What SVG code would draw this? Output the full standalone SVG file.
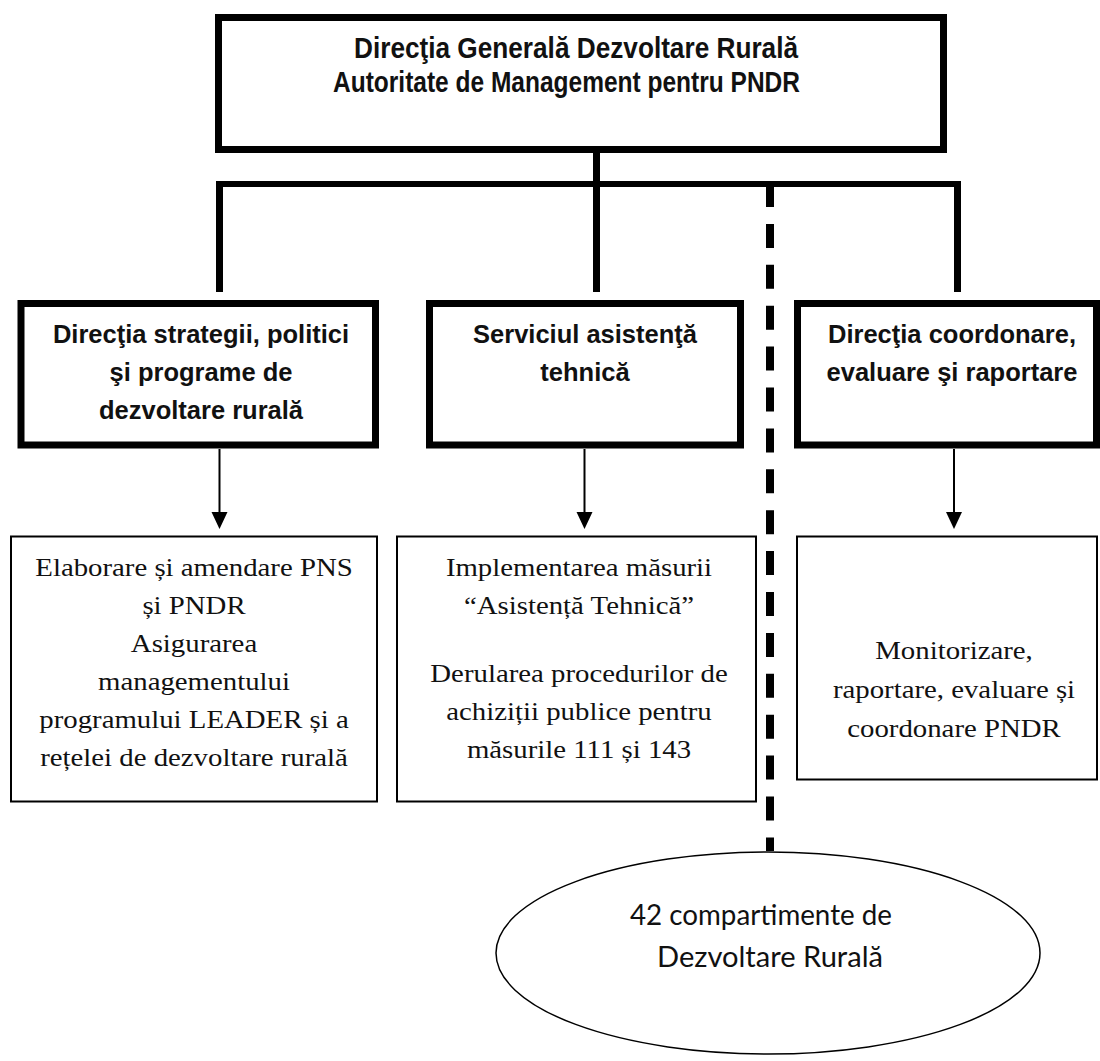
<svg xmlns="http://www.w3.org/2000/svg" width="1100" height="1061" viewBox="0 0 1100 1061">
<style>
.thick{fill:#fff;stroke:#000;stroke-width:7}
.thin{fill:#fff;stroke:#000;stroke-width:2}
.hdr{font-family:"Liberation Sans",Arial,sans-serif;font-weight:bold;font-size:29px;fill:#111}
.lbl{font-family:"Liberation Sans",Arial,sans-serif;font-weight:bold;font-size:25.5px;fill:#111;text-anchor:middle}
.body{font-family:"Liberation Serif","Times New Roman",serif;font-size:25.5px;fill:#111;text-anchor:middle}
.ell{font-family:Lato,"Open Sans",sans-serif;font-size:28px;fill:#111}
.conn{fill:none;stroke:#000}
</style>
<rect width="1100" height="1061" fill="#fff"/>

<g id="connectors">
<line class="conn" x1="596.5" y1="153" x2="596.5" y2="184" stroke-width="7"/>
<line class="conn" x1="216" y1="184" x2="961" y2="184" stroke-width="6"/>
<line class="conn" x1="219.5" y1="181" x2="219.5" y2="292" stroke-width="7"/>
<line class="conn" x1="596.5" y1="181" x2="596.5" y2="292" stroke-width="7"/>
<line class="conn" x1="957.5" y1="181" x2="957.5" y2="292" stroke-width="7"/>
<line class="conn" x1="770" y1="183" x2="770" y2="851" stroke-width="8" stroke-dasharray="24 16.9"/>
<line class="conn" x1="219.5" y1="449" x2="219.5" y2="514" stroke-width="2"/>
<path d="M211.5,512 L227.5,512 L219.5,529 Z" fill="#000"/>
<line class="conn" x1="584.5" y1="449" x2="584.5" y2="514" stroke-width="2"/>
<path d="M576.5,512 L592.5,512 L584.5,529 Z" fill="#000"/>
<line class="conn" x1="954" y1="449" x2="954" y2="514" stroke-width="2"/>
<path d="M946,512 L962,512 L954,529 Z" fill="#000"/>
</g>

<g id="node-dgdr">
<rect class="thick" x="218.5" y="17.5" width="725" height="132"/>
<text class="hdr" x="354" y="58" textLength="444" lengthAdjust="spacingAndGlyphs">Direcţia Generală Dezvoltare Rurală</text>
<text class="hdr" x="333" y="92" textLength="467" lengthAdjust="spacingAndGlyphs">Autoritate de Management pentru PNDR</text>
</g>

<g id="node-dspdr">
<rect class="thick" x="21" y="303.5" width="354.5" height="141.5"/>
<text class="lbl" x="201" y="343">Direcţia strategii, politici</text>
<text class="lbl" x="201" y="381">şi programe de</text>
<text class="lbl" x="201" y="419">dezvoltare rurală</text>
</g>

<g id="node-sat">
<rect class="thick" x="429.5" y="303.5" width="311" height="141.5"/>
<text class="lbl" x="585" y="343">Serviciul asistenţă</text>
<text class="lbl" x="585" y="381">tehnică</text>
</g>

<g id="node-dcer">
<rect class="thick" x="797.5" y="303.5" width="299" height="141.5"/>
<text class="lbl" x="952" y="343">Direcţia coordonare,</text>
<text class="lbl" x="952" y="381">evaluare şi raportare</text>
</g>

<g id="node-elaborare">
<rect class="thin" x="11" y="536.5" width="366" height="265"/>
<g transform="translate(194 0) scale(1.13 1)">
<text class="body" x="0" y="576">Elaborare și amendare PNS</text>
<text class="body" x="0" y="614">și PNDR</text>
<text class="body" x="0" y="652">Asigurarea</text>
<text class="body" x="0" y="690">managementului</text>
<text class="body" x="0" y="728.5">programului LEADER și a</text>
<text class="body" x="0" y="766">rețelei de dezvoltare rurală</text>
</g>
</g>

<g id="node-implementare">
<rect class="thin" x="397" y="536.5" width="359" height="265"/>
<g transform="translate(579 0) scale(1.13 1)">
<text class="body" x="0" y="576">Implementarea măsurii</text>
<text class="body" x="0" y="614">“Asistență Tehnică”</text>
<text class="body" x="0" y="682">Derularea procedurilor de</text>
<text class="body" x="0" y="720">achiziții publice pentru</text>
<text class="body" x="0" y="758">măsurile 111 și 143</text>
</g>
</g>

<g id="node-monitorizare">
<rect class="thin" x="797" y="536.5" width="300" height="243"/>
<g transform="translate(954 0) scale(1.13 1)">
<text class="body" x="0" y="659">Monitorizare,</text>
<text class="body" x="0" y="698">raportare, evaluare și</text>
<text class="body" x="0" y="737">coordonare PNDR</text>
</g>
</g>

<g id="node-compartimente">
<ellipse cx="768" cy="953" rx="272" ry="101" fill="#fff" stroke="#000" stroke-width="1.5"/>
<text class="ell" x="630" y="925" textLength="262" lengthAdjust="spacingAndGlyphs">42 compartimente de</text>
<text class="ell" x="657" y="967" textLength="226" lengthAdjust="spacingAndGlyphs">Dezvoltare Rurală</text>
</g>
</svg>
